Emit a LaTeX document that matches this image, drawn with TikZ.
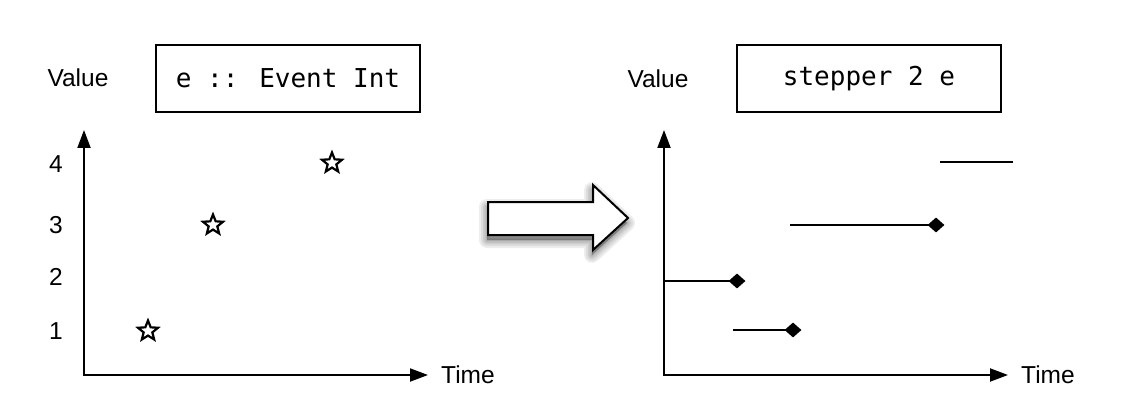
\documentclass[tikz,border=0pt]{standalone}
\usepackage{fontspec}
\setmainfont{Liberation Sans}
\newfontfamily\codefont{DejaVu Sans Mono}
\usetikzlibrary{arrows.meta,shapes.geometric}
\tikzset{
  axis/.style={line width=2pt,{Triangle[length=18pt,width=13pt]}-{Triangle[length=18pt,width=13pt]}},
  stepline/.style={line width=2pt},
  lbl/.style={font=\fontsize{24.5}{28}\selectfont,inner sep=0pt},
  codebox/.style={draw,line width=2pt,minimum width=264pt,minimum height=67pt,inner sep=0pt,font=\codefont\fontsize{26}{30}\selectfont},
  starmark/.style={star,star points=5,star point ratio=2.3,minimum size=21pt,inner sep=0pt,draw,line width=2.2pt,fill=white},
  dmark/.style={diamond,fill=black,minimum width=17pt,minimum height=15pt,inner sep=0pt},
  shadowlayer/.style={draw=black,fill=black,opacity=0.07,line join=round},
}
\def\bigarrowpath{(488,202) -- (593,202) -- (593,185) -- (628,218) -- (593,250) -- (593,235) -- (488,235) -- cycle}
\begin{document}
\begin{tikzpicture}[x=1pt,y=-1pt]
\useasboundingbox (0,0) rectangle (1126,414);
% ---------- left panel ----------
\node[lbl] (lval) at (78,78) {Value};
\node[codebox] (lbox) at (288,78.5) {e :: Event Int};
\coordinate (lytop) at (84,130);
\coordinate (lorig) at (84,375);
\coordinate (lxend) at (428,375);
\draw[axis] (lytop) -- (lorig) -- (lxend);
\node[lbl,anchor=west] (ltime) at (441,375) {Time};
\node[lbl] (n4) at (56,164) {4};
\node[lbl] (n3) at (56,225) {3};
\node[lbl] (n2) at (56,277) {2};
\node[lbl] (n1) at (56,331) {1};
\node[starmark] (st1) at (148,331) {};
\node[starmark] (st2) at (213,225) {};
\node[starmark] (st3) at (332,163) {};
% ---------- big arrow with soft shadow ----------
\begin{scope}[shift={(-1,5)}]
  \foreach \w in {16,12,8,5,2}{
    \path[shadowlayer,line width=\w pt] \bigarrowpath;
  }
\end{scope}
\draw[line width=2pt,fill=white,line join=miter] \bigarrowpath;
% ---------- right panel ----------
\node[lbl] (rval) at (658,79) {Value};
\node[codebox] (rbox) at (869,78.5) {stepper 2 e};
\coordinate (rytop) at (664,130);
\coordinate (rorig) at (664,375);
\coordinate (rxend) at (1008,375);
\draw[axis] (rytop) -- (rorig) -- (rxend);
\node[lbl,anchor=west] (rtime) at (1021,375) {Time};
\coordinate (s1a) at (940,162);
\coordinate (s1b) at (1013,162);
\draw[stepline] (s1a) -- (s1b);
\coordinate (s2a) at (790,225);
\node[dmark] (d2) at (936,225) {};
\draw[stepline] (s2a) -- (d2.center);
\coordinate (s3a) at (664,281);
\node[dmark] (d3) at (737,281) {};
\draw[stepline] (s3a) -- (d3.center);
\coordinate (s4a) at (733,330);
\node[dmark] (d4) at (793,330) {};
\draw[stepline] (s4a) -- (d4.center);
\end{tikzpicture}
\end{document}
